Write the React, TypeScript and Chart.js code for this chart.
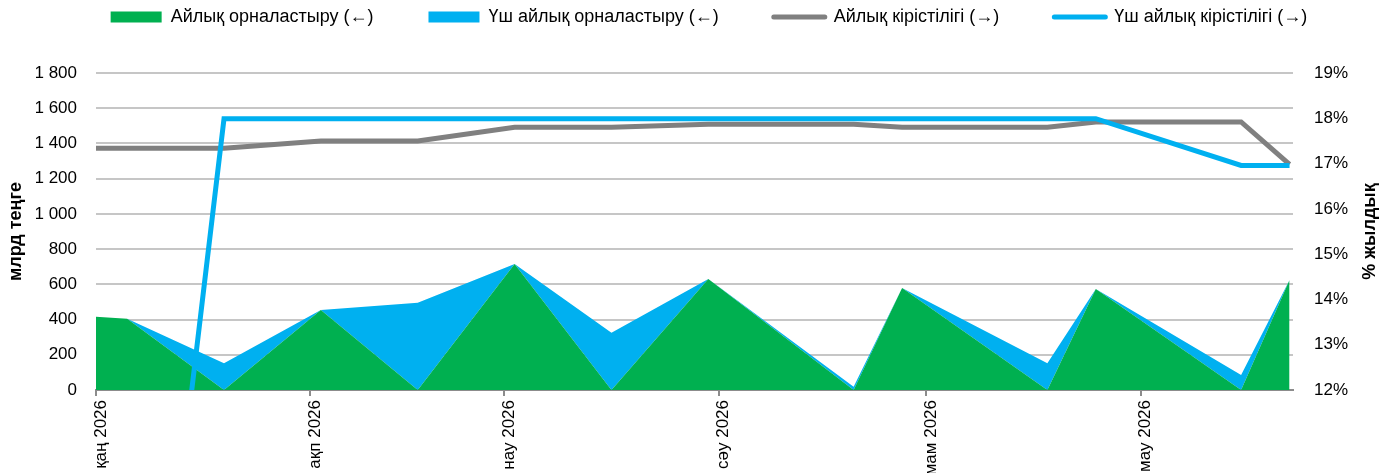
import React, { useEffect, useRef } from 'react';
import { Chart, registerables } from 'chart.js';

Chart.register(...registerables);

// ---- data ----
const DATES = [
  '2025-12-29', '2026-01-05', '2026-01-19', '2026-02-02', '2026-02-16', '2026-03-02', '2026-03-16',
  '2026-03-30', '2026-04-20', '2026-04-27', '2026-05-18', '2026-05-25', '2026-06-15', '2026-06-22',
];
const MONTHLY_PLACEMENT = [423, 404, 0, 454, 0, 715, 0, 630, 0, 579, 0, 573, 0, 625];
const QUARTERLY_PLACEMENT = [0, 0, 152, 0, 496, 0, 325, 0, 18, 0, 152, 0, 85, 0];
const MONTHLY_YIELD = [17.34, 17.34, 17.34, 17.5, 17.5, 17.8, 17.8, 17.87, 17.87, 17.8, 17.8, 17.92, 17.92, 16.98];
const QUARTERLY_YIELD = [0, 0, 17.99, 17.99, 17.99, 17.99, 17.99, 17.99, 17.99, 17.99, 17.99, 17.99, 16.96, 16.96];

const MONTH_TICK_DATES = ['2026-01-01', '2026-02-01', '2026-03-01', '2026-04-01', '2026-05-01', '2026-06-01'];
const MONTH_TICK_LABELS = ['қаң 2026', 'ақп 2026', 'нау 2026', 'сәу 2026', 'мам 2026', 'мау 2026'];
const AXIS_START = '2026-01-01';
const AXIS_END = '2026-06-23';

const SERIES_NAMES = [
  'Айлық орналастыру (←)',
  'Үш айлық орналастыру (←)',
  'Айлық кірістілігі (→)',
  'Үш айлық кірістілігі (→)',
];
const LEFT_TITLE = 'млрд теңге';
const RIGHT_TITLE = '% жылдық';

const GREEN = '#00B050';
const BLUE = '#00B0F0';
const GRAY = '#808080';

const FONT = "'Liberation Sans', Arial, sans-serif";

const DAY_MS = 86400000;
const dayOf = (s: string) => {
  const [y, m, d] = s.split('-').map(Number);
  return (Date.UTC(y, m - 1, d) - Date.UTC(2026, 0, 1)) / DAY_MS;
};
const pointX = (s: string) => dayOf(s) + 0.5;

const W = 1382;
const H = 500;
const LEGEND_FONT = 18;
const LEGEND_PAD = 55;
const PAD_TOP = 8 - LEGEND_PAD;
const AREA_TOP = 73;
const AREA_LEFT = 96;
const AREA_RIGHT = 1293;
const AREA_BOTTOM = 390;
const PAD_LEFT = 36;

const formatThousands = (v: number) => {
  const s = String(Math.round(v));
  return s.replace(/\B(?=(\d{3})+(?!\d))/g, ' ');
};

export default function App() {
  const canvasRef = useRef<HTMLCanvasElement | null>(null);

  useEffect(() => {
    const canvas = canvasRef.current;
    if (!canvas) return;

    const mk = (arr: number[]) => DATES.map((d, i) => ({ x: pointX(d), y: arr[i] }));

    const legendSpacer = {
      id: 'legendSpacer',
      beforeInit(chart: any) {
        const legend = chart.legend;
        if (!legend) return;
        const fit = legend.fit;
        legend.fit = function () {
          fit.call(this);
          this.height = AREA_TOP - PAD_TOP;
        };
      },
    };

    const axisTitles = {
      id: 'axisTitles',
      afterDraw(chart: any) {
        const { ctx, chartArea } = chart;
        const cy = (chartArea.top + chartArea.bottom) / 2;
        const draw = (text: string, x: number) => {
          ctx.save();
          ctx.font = `bold 18px ${FONT}`;
          ctx.fillStyle = '#000';
          ctx.textAlign = 'center';
          ctx.textBaseline = 'middle';
          ctx.translate(x, cy);
          ctx.rotate(-Math.PI / 2);
          ctx.fillText(text, 0, 0);
          ctx.restore();
        };
        draw(LEFT_TITLE, chartArea.left - 79.5);
        draw(RIGHT_TITLE, chartArea.right + 77);
      },
    };

    const chart = new Chart(canvas, {
      type: 'line',
      data: {
        datasets: [
          {
            label: SERIES_NAMES[0],
            data: mk(MONTHLY_PLACEMENT),
            yAxisID: 'y',
            backgroundColor: GREEN,
            borderColor: 'rgba(0,0,0,0)',
            borderWidth: 0,
            fill: 'origin',
            pointRadius: 0,
            tension: 0,
            order: 3,
          },
          {
            label: SERIES_NAMES[1],
            data: mk(QUARTERLY_PLACEMENT),
            yAxisID: 'y',
            backgroundColor: BLUE,
            borderColor: 'rgba(0,0,0,0)',
            borderWidth: 0,
            fill: '-1',
            pointRadius: 0,
            tension: 0,
            order: 4,
          },
          {
            label: SERIES_NAMES[2],
            data: mk(MONTHLY_YIELD),
            yAxisID: 'y1',
            borderColor: GRAY,
            backgroundColor: GRAY,
            borderWidth: 5,
            fill: false,
            pointRadius: 0,
            tension: 0,
            order: 2,
          },
          {
            label: SERIES_NAMES[3],
            data: mk(QUARTERLY_YIELD),
            yAxisID: 'y1',
            borderColor: BLUE,
            backgroundColor: BLUE,
            borderWidth: 5,
            fill: false,
            pointRadius: 0,
            tension: 0,
            order: 1,
          },
        ],
      },
      options: {
        responsive: false,
        animation: false,
        maintainAspectRatio: false,
        layout: { padding: { top: PAD_TOP, left: PAD_LEFT, right: 0, bottom: 0 } },
        plugins: {
          tooltip: { enabled: false },
          legend: {
            display: true,
            position: 'top',
            align: 'center',
            labels: {
              font: { family: FONT, size: LEGEND_FONT },
              color: '#000',
              usePointStyle: true,
              pointStyleWidth: 51,
              boxHeight: 11,
              padding: LEGEND_PAD,
              sort: (a: any, b: any) => a.datasetIndex - b.datasetIndex,
              generateLabels: () =>
                SERIES_NAMES.map((name, i) => {
                  const isLine = i >= 2;
                  const color = [GREEN, BLUE, GRAY, BLUE][i];
                  return {
                    text: name,
                    datasetIndex: i,
                    fillStyle: color,
                    strokeStyle: color,
                    lineWidth: isLine ? 5 : 0,
                    lineCap: isLine ? 'round' : 'butt',
                    pointStyle: isLine ? 'line' : 'rect',
                    hidden: false,
                    fontColor: '#000',
                  };
                }),
            },
          },
        },
        scales: {
          x: {
            type: 'linear',
            min: dayOf(AXIS_START),
            max: dayOf(AXIS_END),
            afterBuildTicks: (scale: any) => {
              scale.ticks = MONTH_TICK_DATES.map((d) => ({ value: dayOf(d) }));
            },
            afterFit: (scale: any) => {
              scale.height = H - AREA_BOTTOM;
            },
            ticks: {
              autoSkip: false,
              maxRotation: 90,
              minRotation: 90,
              padding: 4,
              labelOffset: 5,
              color: '#000',
              font: { family: FONT, size: 17 },
              callback: (value: any) => {
                const idx = MONTH_TICK_DATES.findIndex((d) => dayOf(d) === value);
                return idx >= 0 ? MONTH_TICK_LABELS[idx] : '';
              },
            },
            grid: {
              display: true,
              drawOnChartArea: false,
              drawTicks: true,
              tickLength: 6,
              tickColor: '#8c8c8c',
              lineWidth: 2,
              color: '#8c8c8c',
            },
            border: { display: true, color: '#8c8c8c', width: 2 },
          },
          y: {
            type: 'linear',
            position: 'left',
            stacked: true,
            min: 0,
            max: 1800,
            afterFit: (scale: any) => {
              scale.width = AREA_LEFT - PAD_LEFT;
            },
            ticks: {
              stepSize: 200,
              padding: 19,
              color: '#000',
              font: { family: FONT, size: 17 },
              callback: (v: any) => formatThousands(Number(v)),
            },
            grid: { color: '#c6c6c6', lineWidth: 2, drawTicks: false },
            border: { display: false },
          },
          y1: {
            type: 'linear',
            position: 'right',
            stacked: false,
            min: 12,
            max: 19,
            afterFit: (scale: any) => {
              scale.width = W - AREA_RIGHT;
            },
            ticks: {
              stepSize: 1,
              padding: 21,
              color: '#000',
              font: { family: FONT, size: 17 },
              callback: (v: any) => `${v}%`,
            },
            grid: { display: false, drawTicks: false },
            border: { display: false },
          },
        },
      },
      plugins: [legendSpacer, axisTitles],
    } as any);

    return () => chart.destroy();
  }, []);

  return (
    <div style={{ position: 'fixed', left: 0, top: 0, width: W, height: 473, overflow: 'hidden', background: '#fff' }}>
      <canvas ref={canvasRef} width={W} height={H} style={{ display: 'block', width: W, height: H }} />
    </div>
  );
}
